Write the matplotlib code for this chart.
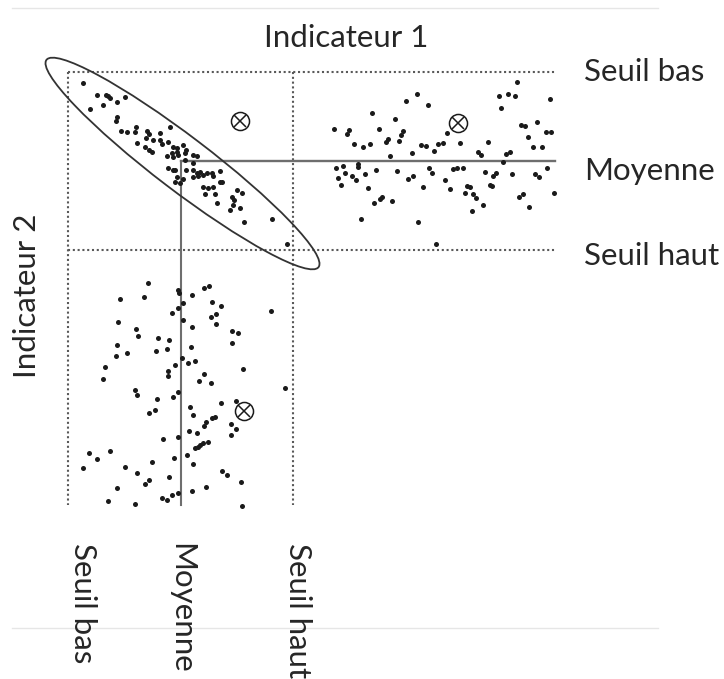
"""
Schéma : répartition de trois groupes selon deux indicateurs,
avec seuils bas / haut et moyennes.
"""

import matplotlib
matplotlib.use("Agg")
import matplotlib.pyplot as plt
from matplotlib.patches import Ellipse

plt.rcParams["font.family"] = ["Lato", "DejaVu Sans"]

# ── Seuils (coordonnées du schéma) ───────────────────────────────────────────
X_SEUIL_BAS, X_MOYENNE, X_SEUIL_HAUT = 68, 181, 293
Y_SEUIL_BAS, Y_MOYENNE, Y_SEUIL_HAUT = 72, 161, 250
X_MAX, Y_MAX = 555, 505

BOTTOM_LABELS = ["Seuil bas", "Moyenne", "Seuil haut"]
RIGHT_LABELS = ["Seuil bas", "Moyenne", "Seuil haut"]

# ── Groupe 1 : corrélé (dans l'ellipse) ──────────────────────────────────────
g1_x = [82.7, 96.7, 106, 110, 108.3, 116.7, 125, 103.3, 90, 116.7, 116,
        120.7, 126.7, 136, 135, 137.3, 147.3, 149.3, 146, 153.3, 160, 170,
        160, 161.7, 145, 149.3, 151.7, 168.3, 173.3, 176.7, 166.7, 173.3,
        178.3, 183.3, 186, 168.3, 175, 176.7, 175, 185, 186, 176.7, 171.7,
        185, 193.3, 196.7, 172.7, 182.7, 180, 193.3, 196.7, 200, 203.3,
        193.3, 198.3, 206.7, 211.7, 220, 212.7, 222.3, 203.3, 208.3, 213.3,
        205, 215, 236.7, 241.7, 231.7, 234, 216.7, 230, 233.3, 240, 244,
        271.7, 286.5, 193.3, 220]
g1_y = [83.3, 95, 95, 98.3, 96, 101.7, 96.7, 105, 109, 116.7, 121,
        130.7, 131.7, 126.7, 131.7, 142.7, 130.7, 134, 138.3, 140, 133.3,
        126.7, 140, 144, 146.7, 150, 151.7, 141.7, 147.3, 151.7, 156,
        157.3, 155, 145, 150, 168.3, 170, 176.7, 181.7, 160, 170, 148.3,
        153.3, 153.3, 155, 156, 170, 179.3, 182.7, 170, 173.3, 171.7, 175,
        176.7, 176, 173.3, 173.3, 170.7, 176, 181.7, 186.7, 188.3, 186.7,
        194, 194, 190, 193.3, 196.7, 200, 202.7, 210, 205, 208.3, 221.7,
        219.3, 244.2, 163, 181.7]

# ── Groupe 2 : en haut à droite ──────────────────────────────────────────────
g2_x = [417.3, 406, 427.7, 372, 395, 334, 349.3, 347.3, 379, 402.7, 400.7,
        387.7, 385.7, 398.7, 353.7, 362.7, 370, 421, 426, 438.3, 412.3,
        434.3, 389.7, 358.3, 358.3, 335.7, 343, 338.3, 345, 351.7, 356,
        340.7, 365, 376.3, 396.7, 408.3, 413.3, 429.3, 432, 423, 367.7,
        382.3, 380, 373.7, 392, 360.7, 418.3, 436,
        516.7, 499.3, 508, 514.7, 550, 500.7, 447.3, 521.3, 525.3, 536.7,
        546, 551, 527.7, 442.7, 460, 487.7, 532.7, 542, 478.3, 481, 506,
        510, 502.7, 452.7, 456.7, 462.7, 445, 450, 485.3, 493.3, 496, 512,
        534.7, 538.7, 547.3, 467.3, 470, 490, 492, 465, 473.3, 476, 482.7,
        471.7, 518.7, 522.7, 554, 529.3]
g2_y = [94, 100.7, 104.7, 113.3, 118.7, 129.3, 130, 134.3, 128.7, 131.3,
        134.7, 138.7, 141.7, 141, 144, 147, 143.7, 145, 145.7, 144, 152.7,
        151.3, 156.3, 164.3, 166.7, 168, 166.3, 177.7, 172.7, 176, 180.3,
        185, 173.7, 170.3, 171, 179, 176, 168.3, 173.3, 186.7, 188, 196.7,
        198.7, 202.7, 200.7, 219.3, 222.3, 244,
        82.3, 96, 94, 96, 98.7, 108, 132.7, 124.7, 126, 121.7, 132, 132,
        136.7, 143.3, 143.3, 141.7, 147.3, 147.3, 152, 155.3, 154, 151.7,
        162.3, 169.3, 168.3, 167.7, 180, 189.3, 172, 176, 173.3, 174.3,
        174.3, 177.3, 168, 185.7, 187.3, 185.3, 186, 192.7, 194, 198.3,
        205.3, 210.7, 196.7, 194.3, 193, 206.7]

# ── Groupe 3 : en bas à gauche ───────────────────────────────────────────────
g3_x = [148.3, 144, 120, 178.3, 179.3, 171.7, 178.3, 182.7, 183.3, 117.7,
        135.7, 138.3, 158.3, 169.3, 116.7, 156, 167.3, 116, 126.7, 181.7,
        105, 102.7, 175, 167.7, 168.3, 135, 137.3, 157.3, 173.3, 178.3,
        149.3, 155, 163.3, 178.3, 110, 89.3, 96.7, 82.7, 125, 151.7, 174,
        137.3, 149.3, 145, 169, 116.7, 108.3, 135, 161.7, 167.3, 171.7,
        178.3,
        192.3, 204.3, 209.3, 212.3, 221, 211, 215.7, 191.7, 215.7, 231.7,
        237.7, 231.7, 271, 191, 187.7, 195, 243.3, 204.3, 199, 211, 285,
        220.7, 235.7, 190, 193.3, 215, 211.7, 205.7, 204.3, 230.7, 235.7,
        231, 189, 196.7, 195, 200, 207.7, 203.3, 198.3, 186.7, 193.3,
        221.7, 226.7, 241, 205.7, 191.7, 241.7]
g3_y = [283.3, 296.7, 299.3, 290, 292.7, 313.3, 308.3, 303.3, 320, 322,
        329.3, 335.7, 337.7, 340.3, 345, 351, 349.3, 356, 353.3, 358.3,
        367.3, 378.7, 365, 370.7, 376, 390, 395, 399, 396.7, 391.7, 412.7,
        410, 439.3, 437.3, 451, 452.7, 459.3, 468.3, 466.7, 462, 457.7,
        472.7, 480, 484, 477.3, 488.3, 501, 504, 497.7, 500, 495, 492.7,
        295, 288.3, 286, 301.7, 305.7, 316.7, 314.3, 326.7, 324, 331.3,
        333.3, 342.7, 311, 347.3, 362.7, 360.7, 369.3, 374, 381, 383.3,
        387.7, 403.3, 400.7, 406.7, 415, 416.7, 418.3, 421.7, 426, 424,
        429, 435, 430.7, 433.3, 448.3, 445, 441.7, 443.3, 446.7, 455, 464,
        470.7, 475, 482, 486.7, 490.7, 506]

# ── Points moyens des groupes (⊗) ────────────────────────────────────────────
centre_x = [240, 457.7, 243.5]
centre_y = [121, 122.7, 411]

# ── Ellipse englobant le groupe 1 ────────────────────────────────────────────
ELL_CENTRE = (182.5, 163.5)
ELL_LONG, ELL_LARGE, ELL_ANGLE = 342, 54, 37.3

DOT_COLOR = "#595959"
LINE_COLOR = "#6e6e6e"
INK = "#1a1a1a"
TEXT_COLOR = "#262626"

fig = plt.figure(figsize=(7.24, 6.79), dpi=100)
ax = fig.add_axes([0, 0, 1, 1])
ax.set_xlim(0, 724)
ax.set_ylim(679, 0)
ax.axis("off")

# cadre clair de la capture
ax.plot([12, 658], [8, 8], color="#e6e6e6", lw=1)
ax.plot([12, 658], [628, 628], color="#e6e6e6", lw=1)

# seuils en pointillés
dots = dict(color=DOT_COLOR, lw=1.5, ls=(0, (1, 1.3)))
for yv in (Y_SEUIL_BAS, Y_SEUIL_HAUT):
    ax.plot([X_SEUIL_BAS, X_MAX], [yv, yv], **dots)
for xv in (X_SEUIL_BAS, X_SEUIL_HAUT):
    ax.plot([xv, xv], [Y_SEUIL_BAS, Y_MAX], **dots)

# moyennes en traits pleins
ax.plot([X_MOYENNE, X_MAX], [Y_MOYENNE, Y_MOYENNE], color=LINE_COLOR, lw=1.7)
ax.plot([X_MOYENNE, X_MOYENNE], [Y_MOYENNE, Y_MAX], color=LINE_COLOR, lw=1.5)

# nuages de points
for gx, gy in ((g1_x, g1_y), (g2_x, g2_y), (g3_x, g3_y)):
    ax.scatter(gx, gy, s=13, color=INK, lw=0, zorder=3)

ax.plot(centre_x, centre_y, "o", ms=13, mfc="none", mec=INK, mew=1.1,
        ls="none", zorder=4)
ax.plot(centre_x, centre_y, "x", ms=8, mec=INK, mew=1.1, ls="none", zorder=4)

ax.add_patch(Ellipse(ELL_CENTRE, ELL_LONG, ELL_LARGE, angle=ELL_ANGLE,
                     fill=False, ec="#333333", lw=1.3, zorder=5))

# textes
fs = 22.5
ax.text(346, 38, "Indicateur 1", fontsize=fs, color=TEXT_COLOR,
        ha="center", va="center")
ax.text(27, 296, "Indicateur 2", fontsize=fs, color=TEXT_COLOR,
        ha="center", va="center", rotation=90)

for lab, yv in zip(RIGHT_LABELS, [Y_SEUIL_BAS, Y_MOYENNE + 10, Y_SEUIL_HAUT + 6]):
    ax.text(584, yv, lab, fontsize=fs, color=TEXT_COLOR, ha="left", va="center")

for lab, xv in zip(BOTTOM_LABELS, [X_SEUIL_BAS + 15, X_MOYENNE, X_SEUIL_HAUT + 5]):
    ax.text(xv, 543, lab, fontsize=fs, color=TEXT_COLOR, ha="center", va="top",
            rotation=270)

fig.savefig("out.png", dpi=100, facecolor="white")
